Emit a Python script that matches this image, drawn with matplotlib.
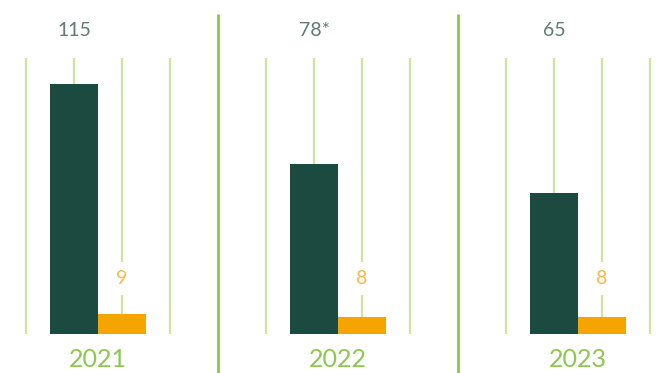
import matplotlib.pyplot as plt

# values per year
years = ['2021', '2022', '2023']
main_values = [115, 78, 65]
main_labels = ['115', '78*', '65']
small_values = [9, 8, 8]
small_labels = ['9', '8', '8']

dark = '#1d4a40'
orange = '#f5a400'
grid_green = '#d0e49e'
sep_green = '#8dc63f'

fig = plt.figure(figsize=(6.59, 3.73), dpi=100)
ax = fig.add_axes([0, 0, 1, 1])

# one group = 1 x-unit, 240 px wide; 250 px tall bar = 115
px = 115 / 250
ax.set_xlim(22 / 240, 681 / 240)
ax.set_ylim(-39 * px, 334 * px)
ax.axis('off')

for i, year in enumerate(years):
    # light gridlines inside each group
    for off in [0.2, 0.4, 0.6, 0.8]:
        ax.plot([i + off, i + off], [0, 276 * px], color=grid_green, lw=1.6,
                solid_capstyle='butt', zorder=1)
    # separator between groups
    ax.plot([i, i], [-40 * px, 320 * px], color=sep_green, lw=2,
            solid_capstyle='butt', zorder=1)

    ax.bar(i + 0.4, main_values[i], width=0.2, color=dark, zorder=2)
    ax.bar(i + 0.6, small_values[i], width=0.2, color=orange, zorder=2)

    ax.text(i + 0.4, 298 * px, main_labels[i], ha='center', va='baseline',
            fontsize=14, color='#5f7a72', family='Lato', zorder=3)
    ax.text(i + 0.6, 50 * px, small_labels[i], ha='center', va='baseline',
            fontsize=14, color='#f7b94c', family='Lato', zorder=3,
            bbox=dict(facecolor='white', edgecolor='none', pad=6))
    ax.text(i + 0.5, -33 * px, year, ha='center', va='baseline',
            fontsize=18, color='#8cc653', family='Lato', zorder=3)

fig.savefig('out.png', dpi=100)
